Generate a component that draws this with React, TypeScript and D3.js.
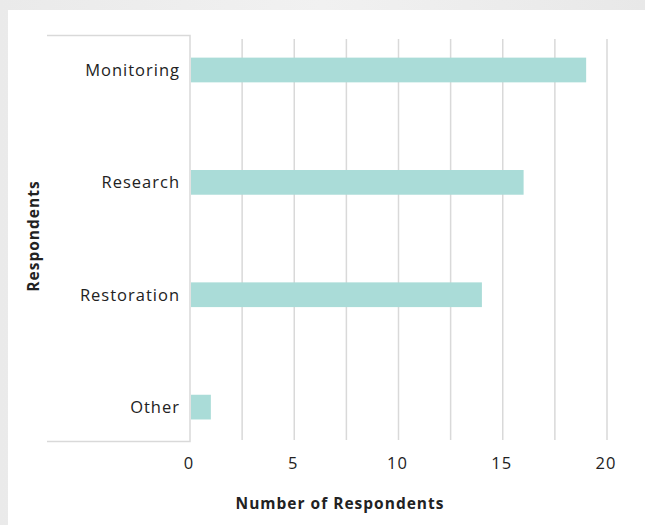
import React from "react";
import * as d3 from "d3";

// Respondent counts by area of work
const categories = ["Monitoring", "Research", "Restoration", "Other"];
const respondents = [19, 16, 14, 1];
const tickValues = [0, 5, 10, 15, 20];
const gridValues = [0, 2.5, 5, 7.5, 10, 12.5, 15, 17.5, 20];

const W = 645;
const H = 525;
const FONT = "'Open Sans', 'Noto Sans', sans-serif";

export default function App() {
  const x = d3.scaleLinear().domain([0, 20]).range([190, 607]);
  const y = d3
    .scaleBand<string>()
    .domain(categories)
    .range([13.8, 463.3])
    .paddingInner(0.78)
    .paddingOuter(0.39);

  const frameTop = 35.5;
  const frameBottom = 441.5;
  const frameLeft = 47;
  const gridTop = 39;
  const gridBottom = 440;

  return (
    <div style={{ position: "absolute", left: 0, top: 0 }}>
      <svg width={W} height={H} style={{ display: "block" }}>
        <defs>
          <linearGradient id="bg" x1="0" y1="0" x2="1" y2="0">
            <stop offset="0" stopColor="#eaeaea" />
            <stop offset="0.5" stopColor="#f1f1f1" />
            <stop offset="1" stopColor="#e8e8e8" />
          </linearGradient>
        </defs>
        <rect x={0} y={0} width={W} height={H} fill="url(#bg)" />
        <rect x={8} y={10} width={W - 8} height={H - 10} fill="#ffffff" />

        {/* vertical gridlines */}
        {gridValues.slice(1).map((v) => (
          <line
            key={v}
            x1={x(v)}
            x2={x(v)}
            y1={gridTop}
            y2={gridBottom}
            stroke="#d9d9d9"
            strokeWidth={1.5}
          />
        ))}

        {/* category axis frame */}
        <path
          d={`M${frameLeft},${frameTop}H${x(0)}V${frameBottom}H${frameLeft}`}
          fill="none"
          stroke="#d9d9d9"
          strokeWidth={1.5}
        />

        {/* bars */}
        {categories.map((c, i) => (
          <rect
            key={c}
            x={x(0) + 1}
            y={y(c)}
            width={x(respondents[i]) - x(0) - 1}
            height={y.bandwidth()}
            fill="#aadcd8"
          />
        ))}

        {/* category labels */}
        {categories.map((c) => (
          <text
            key={c}
            x={180}
            y={(y(c) as number) + y.bandwidth() / 2}
            dy="0.35em"
            textAnchor="end"
            fontFamily={FONT}
            fontSize={16.5}
            letterSpacing={1}
            fill="#222"
          >
            {c}
          </text>
        ))}

        {/* value tick labels */}
        {tickValues.map((v) => (
          <text
            key={v}
            x={x(v) - 1}
            y={469}
            textAnchor="middle"
            fontFamily={FONT}
            fontSize={16.5}
            letterSpacing={1}
            fill="#222"
          >
            {v}
          </text>
        ))}

        {/* axis titles */}
        <text
          x={340}
          y={509}
          textAnchor="middle"
          fontFamily={FONT}
          fontSize={15.5}
          fontWeight="bold"
          letterSpacing={1}
          fill="#222"
        >
          Number of Respondents
        </text>
        <text
          transform={`translate(39,236) rotate(-90)`}
          textAnchor="middle"
          fontFamily={FONT}
          fontSize={15.5}
          fontWeight="bold"
          letterSpacing={1}
          fill="#222"
        >
          Respondents
        </text>
      </svg>
    </div>
  );
}
